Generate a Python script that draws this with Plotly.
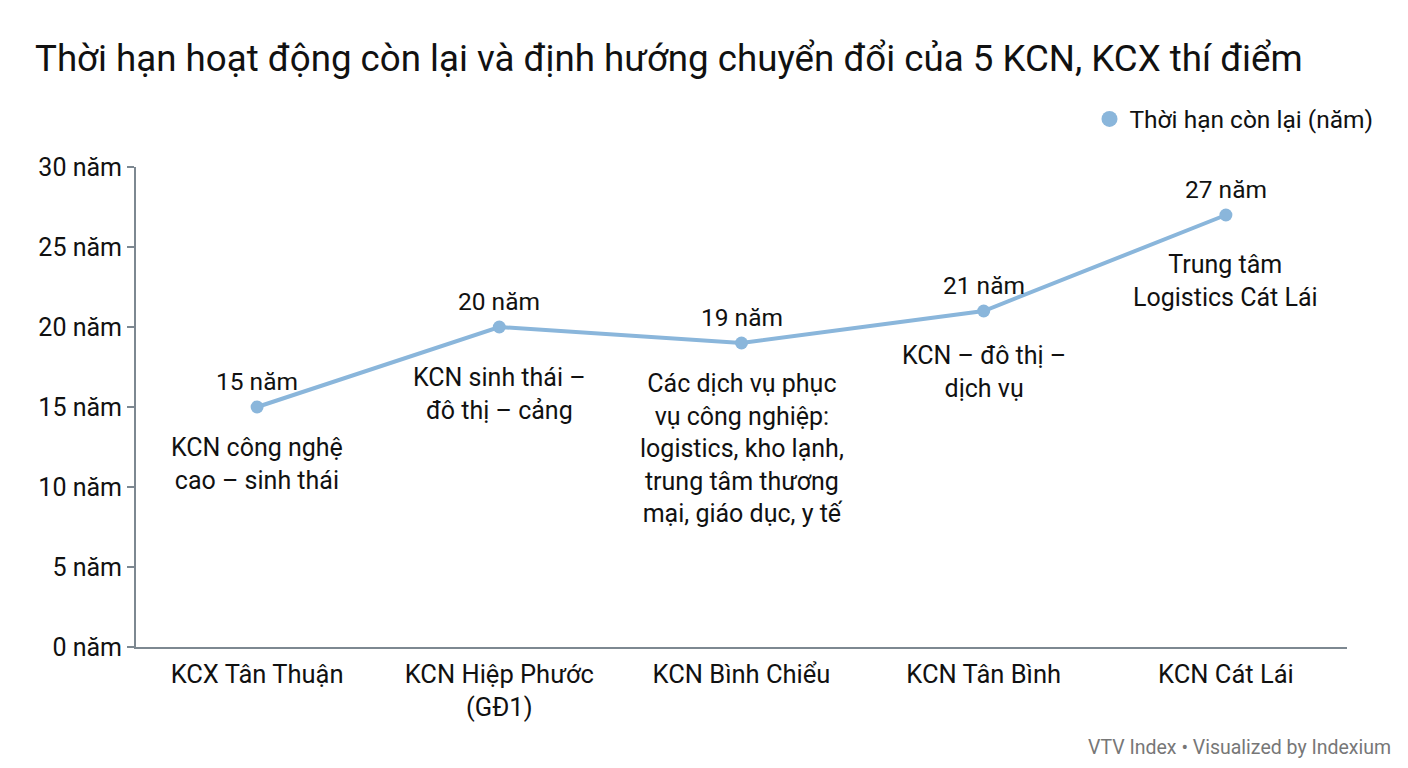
import plotly.graph_objects as go


FONT = "Roboto"

zones = [
    "KCX Tân Thuận",
    "KCN Hiệp Phước<br>(GĐ1)",
    "KCN Bình Chiểu",
    "KCN Tân Bình",
    "KCN Cát Lái",
]
years_left = [15, 20, 19, 21, 27]
value_labels = ["15 năm", "20 năm", "19 năm", "21 năm", "27 năm"]
directions = [
    "KCN công nghệ<br>cao – sinh thái",
    "KCN sinh thái –<br>đô thị – cảng",
    "Các dịch vụ phục<br>vụ công nghiệp:<br>logistics, kho lạnh,<br>trung tâm thương<br>mại, giáo dục, y tế",
    "KCN – đô thị –<br>dịch vụ",
    "Trung tâm<br>Logistics Cát Lái",
]
y_ticks = [0, 5, 10, 15, 20, 25, 30]
y_tick_text = ["0 năm", "5 năm", "10 năm", "15 năm", "20 năm", "25 năm", "30 năm"]

# distance (px) from the point to the centre of the first description line
desc_gap = [41, 51, 41, 45, 50]

LINE_COLOR = "#8ab6db"
AXIS_COLOR = "#7d8891"
TEXT_COLOR = "#111111"

fig = go.Figure()

fig.add_trace(go.Scatter(
    x=zones,
    y=years_left,
    mode="lines+markers",
    line={"color": LINE_COLOR, "width": 4},
    marker={"color": LINE_COLOR, "size": 13},
    showlegend=False,
    cliponaxis=False,
))

# legend entry (dot only)
fig.add_trace(go.Scatter(
    x=[None],
    y=[None],
    mode="markers",
    name="Thời hạn còn lại (năm)",
    marker={"color": LINE_COLOR, "size": 17},
))

annotations = []
for zone, val, lab, desc, gap in zip(zones, years_left, value_labels, directions, desc_gap):
    annotations.append({
        "x": zone, "y": val, "text": lab,
        "showarrow": False, "yanchor": "middle", "yshift": 26,
        "font": {"size": 24.5, "color": TEXT_COLOR, "family": FONT},
    })
    annotations.append({
        "x": zone, "y": val, "text": desc,
        "showarrow": False, "yanchor": "top", "yshift": -(gap - 17),
        "font": {"size": 25, "color": TEXT_COLOR, "family": FONT},
    })

annotations.append({
    "text": "VTV Index • Visualized by Indexium",
    "xref": "paper",
    "yref": "paper",
    "x": (1393 - 136) / 1211,
    "y": (647 - 747) / 480,
    "xanchor": "right",
    "yanchor": "middle",
    "showarrow": False,
    "font": {"size": 19.5, "color": "#777777", "family": FONT},
})

fig.update_xaxes(
    range=[-0.5, 4.5],
    showline=True,
    linecolor=AXIS_COLOR,
    linewidth=2,
    ticks="",
    ticklabelstandoff=3,
    showgrid=False,
    zeroline=False,
    tickfont={"size": 25.5, "color": TEXT_COLOR, "family": FONT},
)
fig.update_yaxes(
    range=[0, 30],
    tickvals=y_ticks,
    ticktext=y_tick_text,
    showline=True,
    linecolor=AXIS_COLOR,
    linewidth=2,
    ticks="outside",
    ticklen=7,
    tickwidth=2,
    tickcolor=AXIS_COLOR,
    showgrid=False,
    zeroline=False,
    tickfont={"size": 25, "color": TEXT_COLOR, "family": FONT},
)

# the page body adds 8px, so the figure is 16px smaller than the window
fig.update_layout(
    width=1392,
    height=752,
    margin={"l": 128, "r": 53, "t": 159, "b": 113},
    plot_bgcolor="white",
    paper_bgcolor="white",
    font={"family": FONT, "color": TEXT_COLOR},
    title={
        "text": "Thời hạn hoạt động còn lại và định hướng chuyển đổi của 5 KCN, KCX thí điểm",
        "x": 27 / 1392,
        "xanchor": "left",
        "xref": "container",
        "y": 1 - 50 / 752,
        "yanchor": "middle",
        "yref": "container",
        "font": {"size": 36.7, "color": TEXT_COLOR, "family": FONT},
    },
    legend={
        "x": 1.026,
        "xanchor": "right",
        "y": 1.1,
        "yanchor": "middle",
        "font": {"size": 24.5, "color": TEXT_COLOR, "family": FONT},
        "bgcolor": "rgba(0,0,0,0)",
        "itemwidth": 30,
    },
    annotations=annotations,
)

fig.write_html("out.html")
